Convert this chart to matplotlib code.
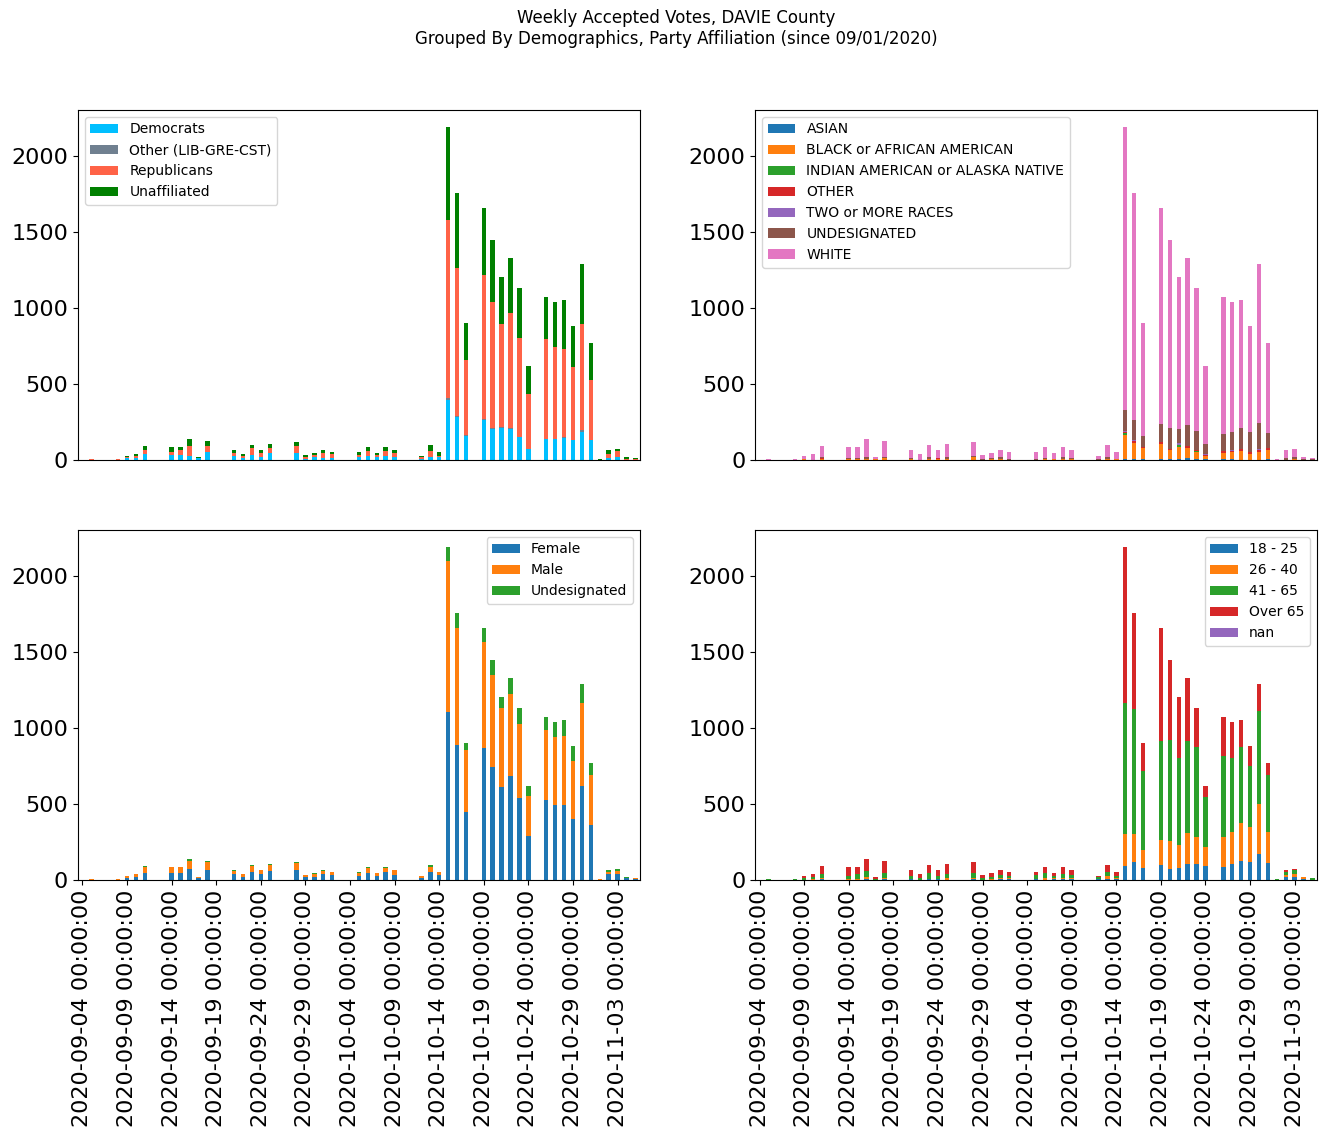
import matplotlib
matplotlib.use("Agg")
import matplotlib.pyplot as plt
import pandas as pd

# days with accepted ballots; every other day in the range is zero
vote_days = [
    "2020-09-05", "2020-09-08", "2020-09-09", "2020-09-10", "2020-09-11",
    "2020-09-14", "2020-09-15", "2020-09-16", "2020-09-17", "2020-09-18",
    "2020-09-21", "2020-09-22", "2020-09-23", "2020-09-24", "2020-09-25",
    "2020-09-28", "2020-09-29", "2020-09-30", "2020-10-01", "2020-10-02",
    "2020-10-05", "2020-10-06", "2020-10-07", "2020-10-08", "2020-10-09",
    "2020-10-12", "2020-10-13", "2020-10-14", "2020-10-15", "2020-10-16", "2020-10-17",
    "2020-10-19", "2020-10-20", "2020-10-21", "2020-10-22", "2020-10-23", "2020-10-24",
    "2020-10-26", "2020-10-27", "2020-10-28", "2020-10-29", "2020-10-30", "2020-10-31",
    "2020-11-01", "2020-11-02", "2020-11-03", "2020-11-04", "2020-11-05",
]
first_day = "2020-09-04"
last_day = "2020-11-05"

# party affiliation
democrats = [0, 0, 13, 15, 39, 33, 33, 28, 13, 53, 26, 13, 33, 18, 44, 46, 9, 18, 15, 15,
             20, 28, 18, 28, 20, 7, 20, 18, 396, 283, 160, 265, 206, 212, 206, 149, 72,
             136, 136, 147, 129, 186, 129, 0, 15, 18, 0, 0]
other_party = [0, 0, 0, 0, 0, 0, 0, 0, 0, 0, 0, 0, 0, 0, 0, 0, 0, 0, 0, 0,
               0, 0, 0, 0, 0, 0, 0, 0, 14, 5, 2, 7, 6, 7, 6, 3, 3,
               2, 2, 2, 3, 11, 3, 0, 0, 0, 0, 0]
republicans = [5, 5, 7, 11, 27, 20, 33, 64, 2, 39, 20, 13, 46, 28, 35, 46, 11, 15, 31, 24,
               13, 31, 15, 31, 26, 12, 39, 8, 1167, 973, 497, 946, 828, 677, 756, 652, 361,
               657, 604, 580, 479, 699, 396, 0, 24, 41, 7, 7]
unaffiliated = [0, 0, 6, 13, 26, 32, 19, 46, 5, 33, 20, 13, 20, 20, 26, 26, 13, 13, 20, 14,
                20, 26, 13, 26, 20, 7, 40, 29, 613, 494, 241, 437, 405, 309, 362, 326, 184,
                275, 293, 321, 269, 394, 242, 8, 27, 13, 13, 6]

# race
asian = [0, 0, 0, 0, 0, 0, 0, 0, 0, 0, 0, 0, 0, 0, 0, 0, 0, 0, 0, 0,
         0, 0, 0, 0, 0, 0, 0, 0, 9, 9, 9, 9, 4, 9, 15, 4, 9,
         4, 4, 2, 2, 2, 9, 0, 0, 0, 0, 0]
black = [0, 0, 4, 0, 6, 6, 6, 8, 4, 13, 6, 0, 6, 6, 6, 20, 0, 6, 6, 0,
         0, 6, 6, 6, 6, 0, 6, 6, 155, 103, 70, 96, 62, 79, 64, 49, 19,
         42, 49, 57, 37, 51, 57, 0, 0, 5, 0, 0]
indian = [0, 0, 0, 0, 0, 0, 0, 0, 0, 0, 0, 0, 0, 0, 0, 0, 0, 0, 0, 0,
          0, 0, 0, 0, 0, 0, 0, 0, 11, 0, 0, 0, 0, 8, 0, 4, 0,
          0, 0, 0, 0, 0, 0, 0, 0, 0, 0, 0]
other_race = [0, 0, 0, 0, 6, 0, 0, 0, 0, 0, 0, 0, 0, 6, 0, 0, 0, 0, 0, 0,
              0, 0, 0, 0, 0, 0, 0, 0, 9, 13, 4, 13, 4, 5, 13, 9, 7,
              13, 6, 13, 14, 13, 13, 0, 0, 0, 0, 0]
two_races = [0, 0, 0, 0, 0, 0, 0, 0, 0, 0, 0, 0, 0, 0, 0, 0, 0, 0, 0, 0,
             0, 0, 0, 0, 0, 0, 0, 0, 6, 6, 0, 0, 0, 9, 0, 0, 7,
             0, 7, 0, 0, 6, 0, 0, 0, 0, 0, 0]
undesignated_race = [0, 2, 0, 0, 6, 6, 6, 12, 0, 7, 6, 2, 13, 0, 13, 6, 6, 6, 13, 6,
                     6, 6, 0, 13, 6, 6, 13, 0, 139, 132, 75, 119, 140, 94, 138, 124, 63,
                     112, 118, 138, 131, 171, 98, 2, 13, 15, 7, 4]
white = [5, 3, 22, 39, 74, 73, 73, 118, 16, 105, 54, 37, 80, 54, 86, 92, 27, 34, 47, 47,
         47, 73, 40, 66, 54, 20, 80, 49, 1861, 1492, 742, 1418, 1235, 1001, 1100, 940, 515,
         899, 851, 840, 696, 1047, 593, 6, 53, 52, 13, 9]

# gender
female = [0, 0, 13, 20, 46, 46, 46, 72, 13, 66, 39, 20, 53, 39, 59, 66, 20, 20, 39, 33,
          26, 46, 26, 53, 33, 13, 53, 33, 1106, 887, 447, 867, 742, 611, 683, 539, 289,
          526, 493, 493, 401, 618, 361, 0, 39, 39, 15, 7]
male = [5, 5, 13, 19, 39, 39, 39, 53, 7, 52, 20, 19, 39, 27, 40, 46, 13, 22, 20, 20,
        20, 33, 20, 26, 33, 13, 32, 22, 990, 769, 407, 697, 605, 519, 539, 486, 263,
        460, 447, 453, 381, 545, 329, 8, 14, 20, 0, 6]
undesignated_gender = [0, 0, 0, 0, 7, 0, 0, 13, 0, 7, 7, 0, 7, 0, 6, 6, 0, 4, 7, 0,
                       7, 6, 0, 6, 0, 0, 14, 0, 94, 99, 46, 91, 98, 75, 108, 105, 68,
                       84, 95, 104, 98, 127, 80, 0, 13, 13, 5, 0]

# age groups
age_18_25 = [0, 0, 0, 2, 6, 0, 0, 7, 0, 6, 7, 0, 7, 7, 0, 6, 0, 0, 6, 7,
             7, 0, 6, 6, 6, 4, 9, 7, 92, 118, 79, 99, 72, 79, 105, 105, 92,
             85, 105, 125, 118, 171, 112, 0, 20, 19, 7, 0]
age_26_40 = [0, 0, 0, 4, 7, 6, 6, 13, 0, 7, 0, 0, 0, 0, 13, 7, 0, 7, 7, 7,
             0, 13, 7, 7, 7, 5, 18, 9, 210, 184, 118, 164, 184, 151, 204, 177, 125,
             197, 210, 250, 230, 329, 204, 0, 13, 20, 13, 0]
age_41_65 = [5, 5, 13, 11, 26, 20, 33, 39, 7, 33, 20, 13, 39, 20, 26, 33, 13, 13, 20, 13,
             26, 33, 13, 26, 20, 11, 28, 13, 861, 821, 519, 650, 664, 572, 604, 591, 329,
             532, 486, 499, 401, 611, 374, 8, 20, 26, 0, 13]
age_over_65 = [0, 0, 13, 22, 53, 59, 46, 79, 13, 79, 39, 26, 53, 39, 66, 72, 20, 26, 33, 26,
               20, 39, 20, 46, 33, 6, 44, 26, 1027, 632, 184, 742, 525, 403, 417, 257, 74,
               256, 234, 176, 131, 179, 80, 0, 13, 7, 0, 0]
age_nan = [0] * len(vote_days)


def day_frame(columns):
    df = pd.DataFrame(columns, index=pd.to_datetime(vote_days))
    full = pd.date_range(first_day, last_day, freq="D")
    return df.reindex(full, fill_value=0)


party_df = day_frame({
    "Democrats": democrats,
    "Other (LIB-GRE-CST)": other_party,
    "Republicans": republicans,
    "Unaffiliated": unaffiliated,
})
race_df = day_frame({
    "ASIAN": asian,
    "BLACK or AFRICAN AMERICAN": black,
    "INDIAN AMERICAN or ALASKA NATIVE": indian,
    "OTHER": other_race,
    "TWO or MORE RACES": two_races,
    "UNDESIGNATED": undesignated_race,
    "WHITE": white,
})
gender_df = day_frame({
    "Female": female,
    "Male": male,
    "Undesignated": undesignated_gender,
})
age_df = day_frame({
    "18 - 25": age_18_25,
    "26 - 40": age_26_40,
    "41 - 65": age_41_65,
    "Over 65": age_over_65,
    "nan": age_nan,
})

party_colors = ["deepskyblue", "slategray", "tomato", "green"]

fig, axes = plt.subplots(2, 2, figsize=(13.26, 11.37))
fig.subplots_adjust(left=0.0588, right=0.9932, top=0.9033, bottom=0.226,
                    wspace=0.205, hspace=0.2)
fig.suptitle("Weekly Accepted Votes, DAVIE County\n"
             "Grouped By Demographics, Party Affiliation (since 09/01/2020)",
             fontsize=12, x=0.51, y=0.992)

panels = [
    (axes[0, 0], party_df, party_colors, "upper left"),
    (axes[0, 1], race_df, None, "upper left"),
    (axes[1, 0], gender_df, None, "upper right"),
    (axes[1, 1], age_df, None, "upper right"),
]

for ax, df, colors, loc in panels:
    df.plot.bar(stacked=True, ax=ax, color=colors, fontsize=16, legend=False)
    ticks = list(range(0, len(df), 5))
    ax.set_xticks(ticks)
    ax.set_xticklabels([str(df.index[i]) for i in ticks], rotation=90)
    ax.legend(loc=loc, fontsize=10)

for ax in axes[0]:
    ax.tick_params(axis="x", which="both", bottom=False, labelbottom=False)

fig.savefig("out.png", dpi=100)
